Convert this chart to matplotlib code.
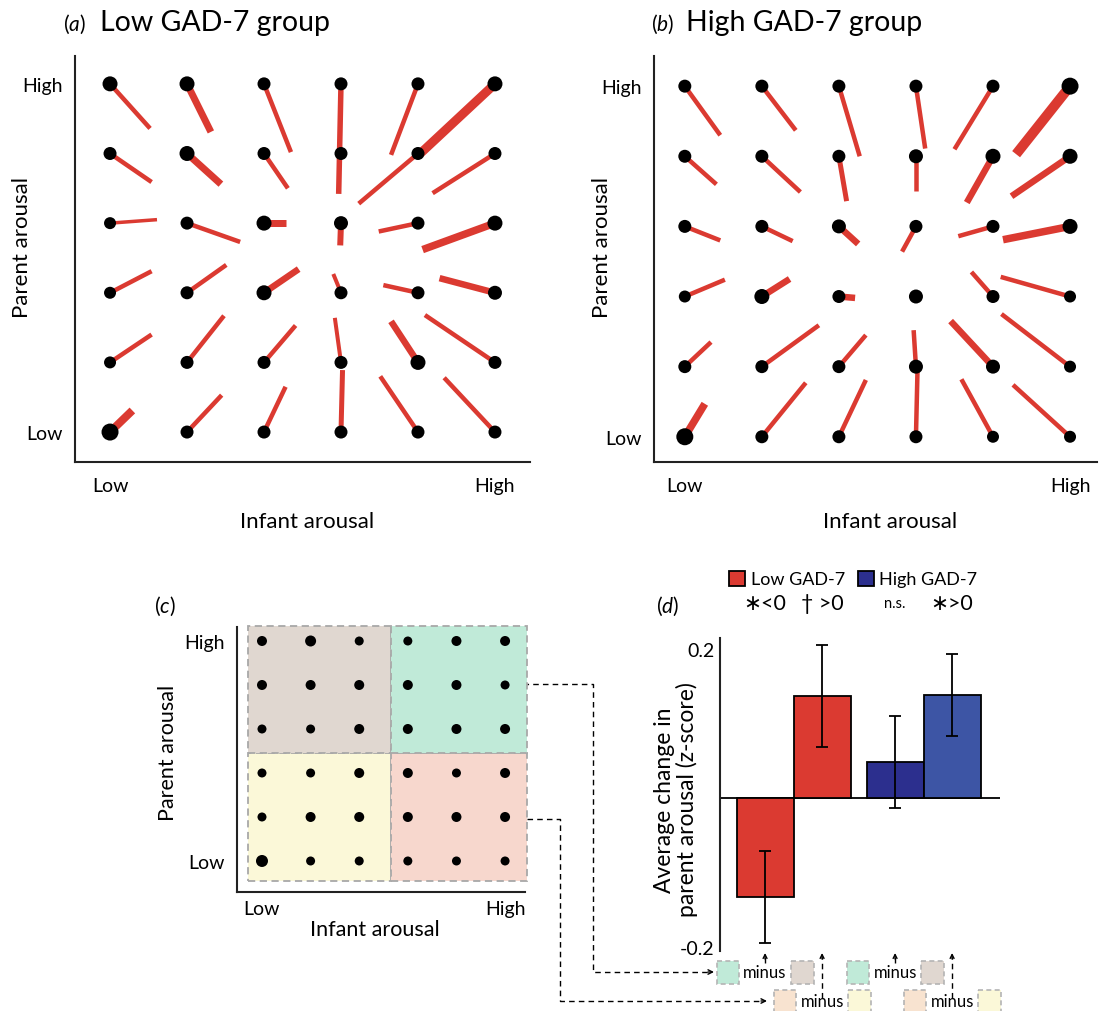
import numpy as np
import matplotlib.pyplot as plt
from matplotlib.patches import Rectangle, Patch
from matplotlib.transforms import blended_transform_factory

plt.rcParams['font.family'] = ['Lato', 'DejaVu Sans']
plt.rcParams['mathtext.fontset'] = 'custom'
plt.rcParams['mathtext.it'] = 'Lato:italic'
plt.rcParams['mathtext.rm'] = 'Lato'

# canvas size in pixels
W, H = 1104, 1012

# vector field, low GAD-7 group (rows listed from high to low parent arousal)
low_dx = [[0.52, 0.31, 0.35, -0.03, -0.35, -0.97],
          [0.54, 0.44, 0.31, 0.00, -0.77, -0.81],
          [0.61, 0.69, 0.28, -0.01, -0.51, -0.94],
          [0.54, 0.51, 0.45, -0.10, -0.45, -0.72],
          [0.54, 0.48, 0.41, -0.08, -0.35, -0.91],
          [0.29, 0.45, 0.28, 0.02, -0.49, -0.66]]
low_dy = [[-0.64, -0.69, -0.98, -1.58, -1.02, -1.00],
          [-0.41, -0.44, -0.50, -0.05, -0.72, -0.57],
          [0.05, -0.27, 0.00, -0.32, -0.12, -0.38],
          [0.31, 0.40, 0.34, 0.27, 0.11, 0.21],
          [0.40, 0.67, 0.53, 0.64, 0.59, 0.68],
          [0.31, 0.53, 0.65, 0.89, 0.80, 0.78]]
low_width = [[4.5, 7, 4.5, 5.5, 4.5, 9],
             [4.5, 7, 4.5, 4, 4.5, 4.5],
             [3.5, 4.5, 7, 6, 4.5, 7.5],
             [4.5, 4.5, 6.5, 4, 4.5, 6.5],
             [4.5, 4.5, 4.5, 4, 6.5, 4.5],
             [8, 4.5, 4.5, 5, 4.5, 4.5]]
low_dot = [[15, 15, 13, 13, 13, 15],
           [13, 15, 13, 13, 13, 13],
           [12, 13, 15, 14, 13, 15],
           [12, 13, 15, 13, 13, 14],
           [12, 13, 13, 13, 15, 13],
           [17, 13, 13, 13, 13, 13]]

# vector field, high GAD-7 group
high_dx = [[0.46, 0.44, 0.27, 0.12, -0.50, -0.70],
           [0.41, 0.50, 0.10, 0.00, -0.34, -0.76],
           [0.46, 0.40, 0.25, -0.18, -0.45, -0.87],
           [0.52, 0.36, 0.21, 0.00, -0.28, -0.90],
           [0.34, 0.74, 0.35, -0.03, -0.55, -0.89],
           [0.26, 0.57, 0.35, 0.02, -0.41, -0.74]]
high_dy = [[-0.70, -0.63, -1.00, -0.89, -0.90, -0.97],
           [-0.40, -0.51, -0.64, -0.49, -0.66, -0.57],
           [-0.20, -0.21, -0.25, -0.36, -0.14, -0.19],
           [0.24, 0.25, -0.02, 0.00, 0.35, 0.28],
           [0.35, 0.59, 0.45, 0.52, 0.65, 0.75],
           [0.47, 0.77, 0.81, 0.94, 0.82, 0.74]]
high_width = [[4.5, 4.5, 4.5, 4.5, 4.5, 10],
              [4.5, 4.5, 5, 4.5, 6.5, 6.5],
              [4.5, 4.5, 6.5, 4.5, 4.5, 7.5],
              [4.5, 6.5, 6.5, 0, 4.5, 4.5],
              [4.5, 4.5, 4.5, 4.5, 6.5, 4.5],
              [7.5, 4.5, 4.5, 4.5, 4.5, 4.5]]
high_dot = [[13, 13, 13, 13, 13, 17],
            [13, 13, 13, 14, 15, 15],
            [13, 13, 14, 13, 13, 15],
            [12, 15, 13, 14, 13, 12],
            [13, 13, 13, 14, 14, 12],
            [17, 13, 13, 13, 12, 12]]

# quadrant schematic
quad_dot = [[10, 11, 9, 9, 10, 10],
            [10, 10, 10, 10, 10, 9],
            [9, 9, 10, 10, 10, 10],
            [9, 9, 10, 10, 9, 10],
            [9, 10, 10, 10, 10, 10],
            [12, 9, 9, 9, 9, 9]]

# bar chart
bar_vals = [-0.133, 0.137, 0.048, 0.138]
bar_err = [0.062, 0.068, 0.062, 0.055]
bar_sig = ['∗<0', '† >0', 'n.s.', '∗>0']

RED = '#db3a31'
DBLUE = '#2c2f8e'
BLUE = '#3d55a5'
bar_colors = [RED, RED, DBLUE, BLUE]
quad_colors = {'tl': '#e0d7d0', 'tr': '#c0ead8', 'bl': '#fbf8d8', 'br': '#f7d7cd'}
PEACH = '#f8e3d0'

fig = plt.figure(figsize=(W / 100, H / 100), dpi=100)


def fx(x):
    return x / W


def fy(y):
    return 1 - y / H


def px_axes(x0, y0, x1, y1):
    return fig.add_axes([x0 / W, 1 - y1 / H, (x1 - x0) / W, (y1 - y0) / H])


def frame(ax):
    for s in ['top', 'right']:
        ax.spines[s].set_visible(False)
    for s in ['left', 'bottom']:
        ax.spines[s].set_color('#222222')
        ax.spines[s].set_linewidth(1.5)
    ax.set_facecolor('none')


def vector_panel(ax, dx, dy, width, dot):
    dx, dy, width, dot = map(np.array, (dx, dy, width, dot))
    for r in range(6):
        for c in range(6):
            if width[r, c] > 0:
                ax.plot([c, c + dx[r, c]], [5 - r, 5 - r + dy[r, c]],
                        color=RED, lw=width[r, c] * 0.72,
                        solid_capstyle='butt', zorder=2)
    xs, ys = np.meshgrid(np.arange(6), 5 - np.arange(6))
    ax.scatter(xs.ravel(), ys.ravel(), s=(dot.ravel() * 0.72) ** 2,
               color='k', lw=0, zorder=3)
    frame(ax)
    ax.set_xticks([0, 5], ['Low', 'High'])
    ax.set_yticks([0, 5], ['Low', 'High'])
    ax.tick_params(axis='x', length=0, pad=10.5, labelsize=14)
    ax.tick_params(axis='y', length=0, pad=8.5, labelsize=14)


# (a)
ax_a = px_axes(75, 57, 530, 463)
vector_panel(ax_a, low_dx, low_dy, low_width, low_dot)
ax_a.set_xlim(-0.455, 5.455)
ax_a.set_ylim(-0.43, 5.40)
fig.text(fx(63), fy(24), r'($\mathit{a}$)', fontsize=15, va='center')
fig.text(fx(100), fy(23), 'Low GAD-7 group', fontsize=20.5, va='center')
fig.text(fx(307), fy(522), 'Infant arousal', fontsize=16, ha='center', va='center')
fig.text(fx(22), fy(247), 'Parent arousal', fontsize=16, ha='center', va='center',
         rotation=90)

# (b)
ax_b = px_axes(654, 57, 1097, 463)
vector_panel(ax_b, high_dx, high_dy, high_width, high_dot)
ax_b.set_xlim(-0.40, 5.35)
ax_b.set_ylim(-0.36, 5.43)
fig.text(fx(651), fy(24), r'($\mathit{b}$)', fontsize=15, va='center')
fig.text(fx(686), fy(23), 'High GAD-7 group', fontsize=20.5, va='center')
fig.text(fx(890), fy(522), 'Infant arousal', fontsize=16, ha='center', va='center')
fig.text(fx(602), fy(247), 'Parent arousal', fontsize=16, ha='center', va='center',
         rotation=90)

# (c) quadrants
ax_c = px_axes(237, 628, 525, 893)
xe = [-0.288, 2.654, 5.45]
ye = [-0.455, 2.455, 5.34]
for key, (i, j) in {'bl': (0, 0), 'br': (1, 0), 'tl': (0, 1), 'tr': (1, 1)}.items():
    ax_c.add_patch(Rectangle((xe[i], ye[j]), xe[i + 1] - xe[i], ye[j + 1] - ye[j],
                             facecolor=quad_colors[key], edgecolor='#a8a8a8',
                             lw=1.3, ls=(0, (4, 2.5)), clip_on=False, zorder=1))
qd = np.array(quad_dot)
xs, ys = np.meshgrid(np.arange(6), 5 - np.arange(6))
ax_c.scatter(xs.ravel(), ys.ravel(), s=(qd.ravel() * 0.72) ** 2, color='k', lw=0,
             zorder=3)
frame(ax_c)
ax_c.set_xlim(-0.514, 5.41)
ax_c.set_ylim(-0.705, 5.318)
ax_c.set_xticks([0, 5], ['Low', 'High'])
ax_c.set_yticks([0, 5], ['Low', 'High'])
ax_c.tick_params(axis='x', length=0, pad=5.5, labelsize=14)
ax_c.tick_params(axis='y', length=0, pad=9, labelsize=14)
fig.text(fx(165), fy(606), r'($\mathit{c}$)', fontsize=15, ha='center', va='center')
fig.text(fx(375), fy(930), 'Infant arousal', fontsize=15.5, ha='center', va='center')
fig.text(fx(168), fy(753), 'Parent arousal', fontsize=15.5, ha='center', va='center',
         rotation=90)

# (d) bars
ax_d = px_axes(720, 639, 1000, 952)
gap = 0.28
pos = np.array([0, 1, 2 + gap, 3 + gap])
ax_d.bar(pos, bar_vals, width=1, color=bar_colors, edgecolor='k', lw=1.3, zorder=2)
ax_d.errorbar(pos, bar_vals, yerr=bar_err, fmt='none', ecolor='k', elinewidth=1.3,
              capsize=4, capthick=1.3, zorder=3)
ax_d.axhline(0, color='k', lw=1.3, zorder=1)
frame(ax_d)
ax_d.spines['bottom'].set_visible(False)
ax_d.set_xlim(-0.79, 4.12)
ax_d.set_ylim(-0.2054, 0.2148)
ax_d.set_xticks([])
ax_d.set_yticks([-0.2, 0.2], ['-0.2', '0.2'])
ax_d.tick_params(axis='y', length=0, pad=4, labelsize=14)
fig.text(fx(676), fy(800), 'Average change in\nparent arousal (z-score)', fontsize=16.5,
         ha='center', va='center', rotation=90, linespacing=1.05)
fig.text(fx(668), fy(606), r'($\mathit{d}$)', fontsize=15, ha='center', va='center')

sig_tr = blended_transform_factory(ax_d.transData, fig.transFigure)
for p, s in zip(pos, bar_sig):
    ax_d.text(p, fy(604), s, transform=sig_tr, ha='center', va='center',
              fontsize=10.5 if s == 'n.s.' else 15.5, clip_on=False)

fig.legend(handles=[Patch(facecolor=RED, edgecolor='k', lw=1.3),
                    Patch(facecolor=DBLUE, edgecolor='k', lw=1.3)],
           labels=['Low GAD-7', 'High GAD-7'], ncol=2, loc='center left',
           bbox_to_anchor=(fx(729), fy(580)), frameon=False, fontsize=13,
           handlelength=0.9, handleheight=0.9, handletextpad=0.3,
           columnspacing=0.7, borderpad=0, borderaxespad=0)

# connectors and difference boxes, in pixel coordinates
over = fig.add_axes([0, 0, 1, 1], zorder=-1)
over.set_xlim(0, W)
over.set_ylim(H, 0)
over.axis('off')
dash = dict(color='k', lw=1, ls=(0, (4, 3)))
over.plot([523, 593, 593, 710], [685, 685, 973, 973], **dash)
over.plot([527, 560, 560, 763], [820, 820, 1002, 1002], **dash)
for xe0, ye0 in [(714, 973), (767, 1002)]:
    over.annotate('', xy=(xe0, ye0), xytext=(xe0 - 6, ye0),
                  arrowprops=dict(arrowstyle='->', color='k', lw=1,
                                  mutation_scale=8, shrinkA=0, shrinkB=0))

box_tr = blended_transform_factory(ax_d.transData, over.transData)
rows = [(0, 973, quad_colors['tr'], quad_colors['tl']),
        (1, 1002, PEACH, quad_colors['bl']),
        (2, 973, quad_colors['tr'], quad_colors['tl']),
        (3, 1002, PEACH, quad_colors['bl'])]
for k, yc, left_c, right_c in rows:
    p = pos[k]
    for off, col in [(-0.65, left_c), (0.65, right_c)]:
        over.add_patch(Rectangle((p + off - 0.2, yc - 11.5), 0.4, 23,
                                 transform=box_tr, facecolor=col,
                                 edgecolor='#b4b4b4', lw=1.2, ls=(0, (3, 2))))
    over.text(p, yc, 'minus', transform=box_tr, ha='center', va='center',
              fontsize=12)
    y_start = yc - 9 if yc < 990 else yc - 3
    over.plot([p, p], [y_start, 958], transform=box_tr, **dash)
    over.annotate('', xy=(p, 954), xytext=(p, 960), xycoords=box_tr,
                  textcoords=box_tr,
                  arrowprops=dict(arrowstyle='->', color='k', lw=1,
                                  mutation_scale=7, shrinkA=0, shrinkB=0))

fig.savefig('out.png', dpi=100)
